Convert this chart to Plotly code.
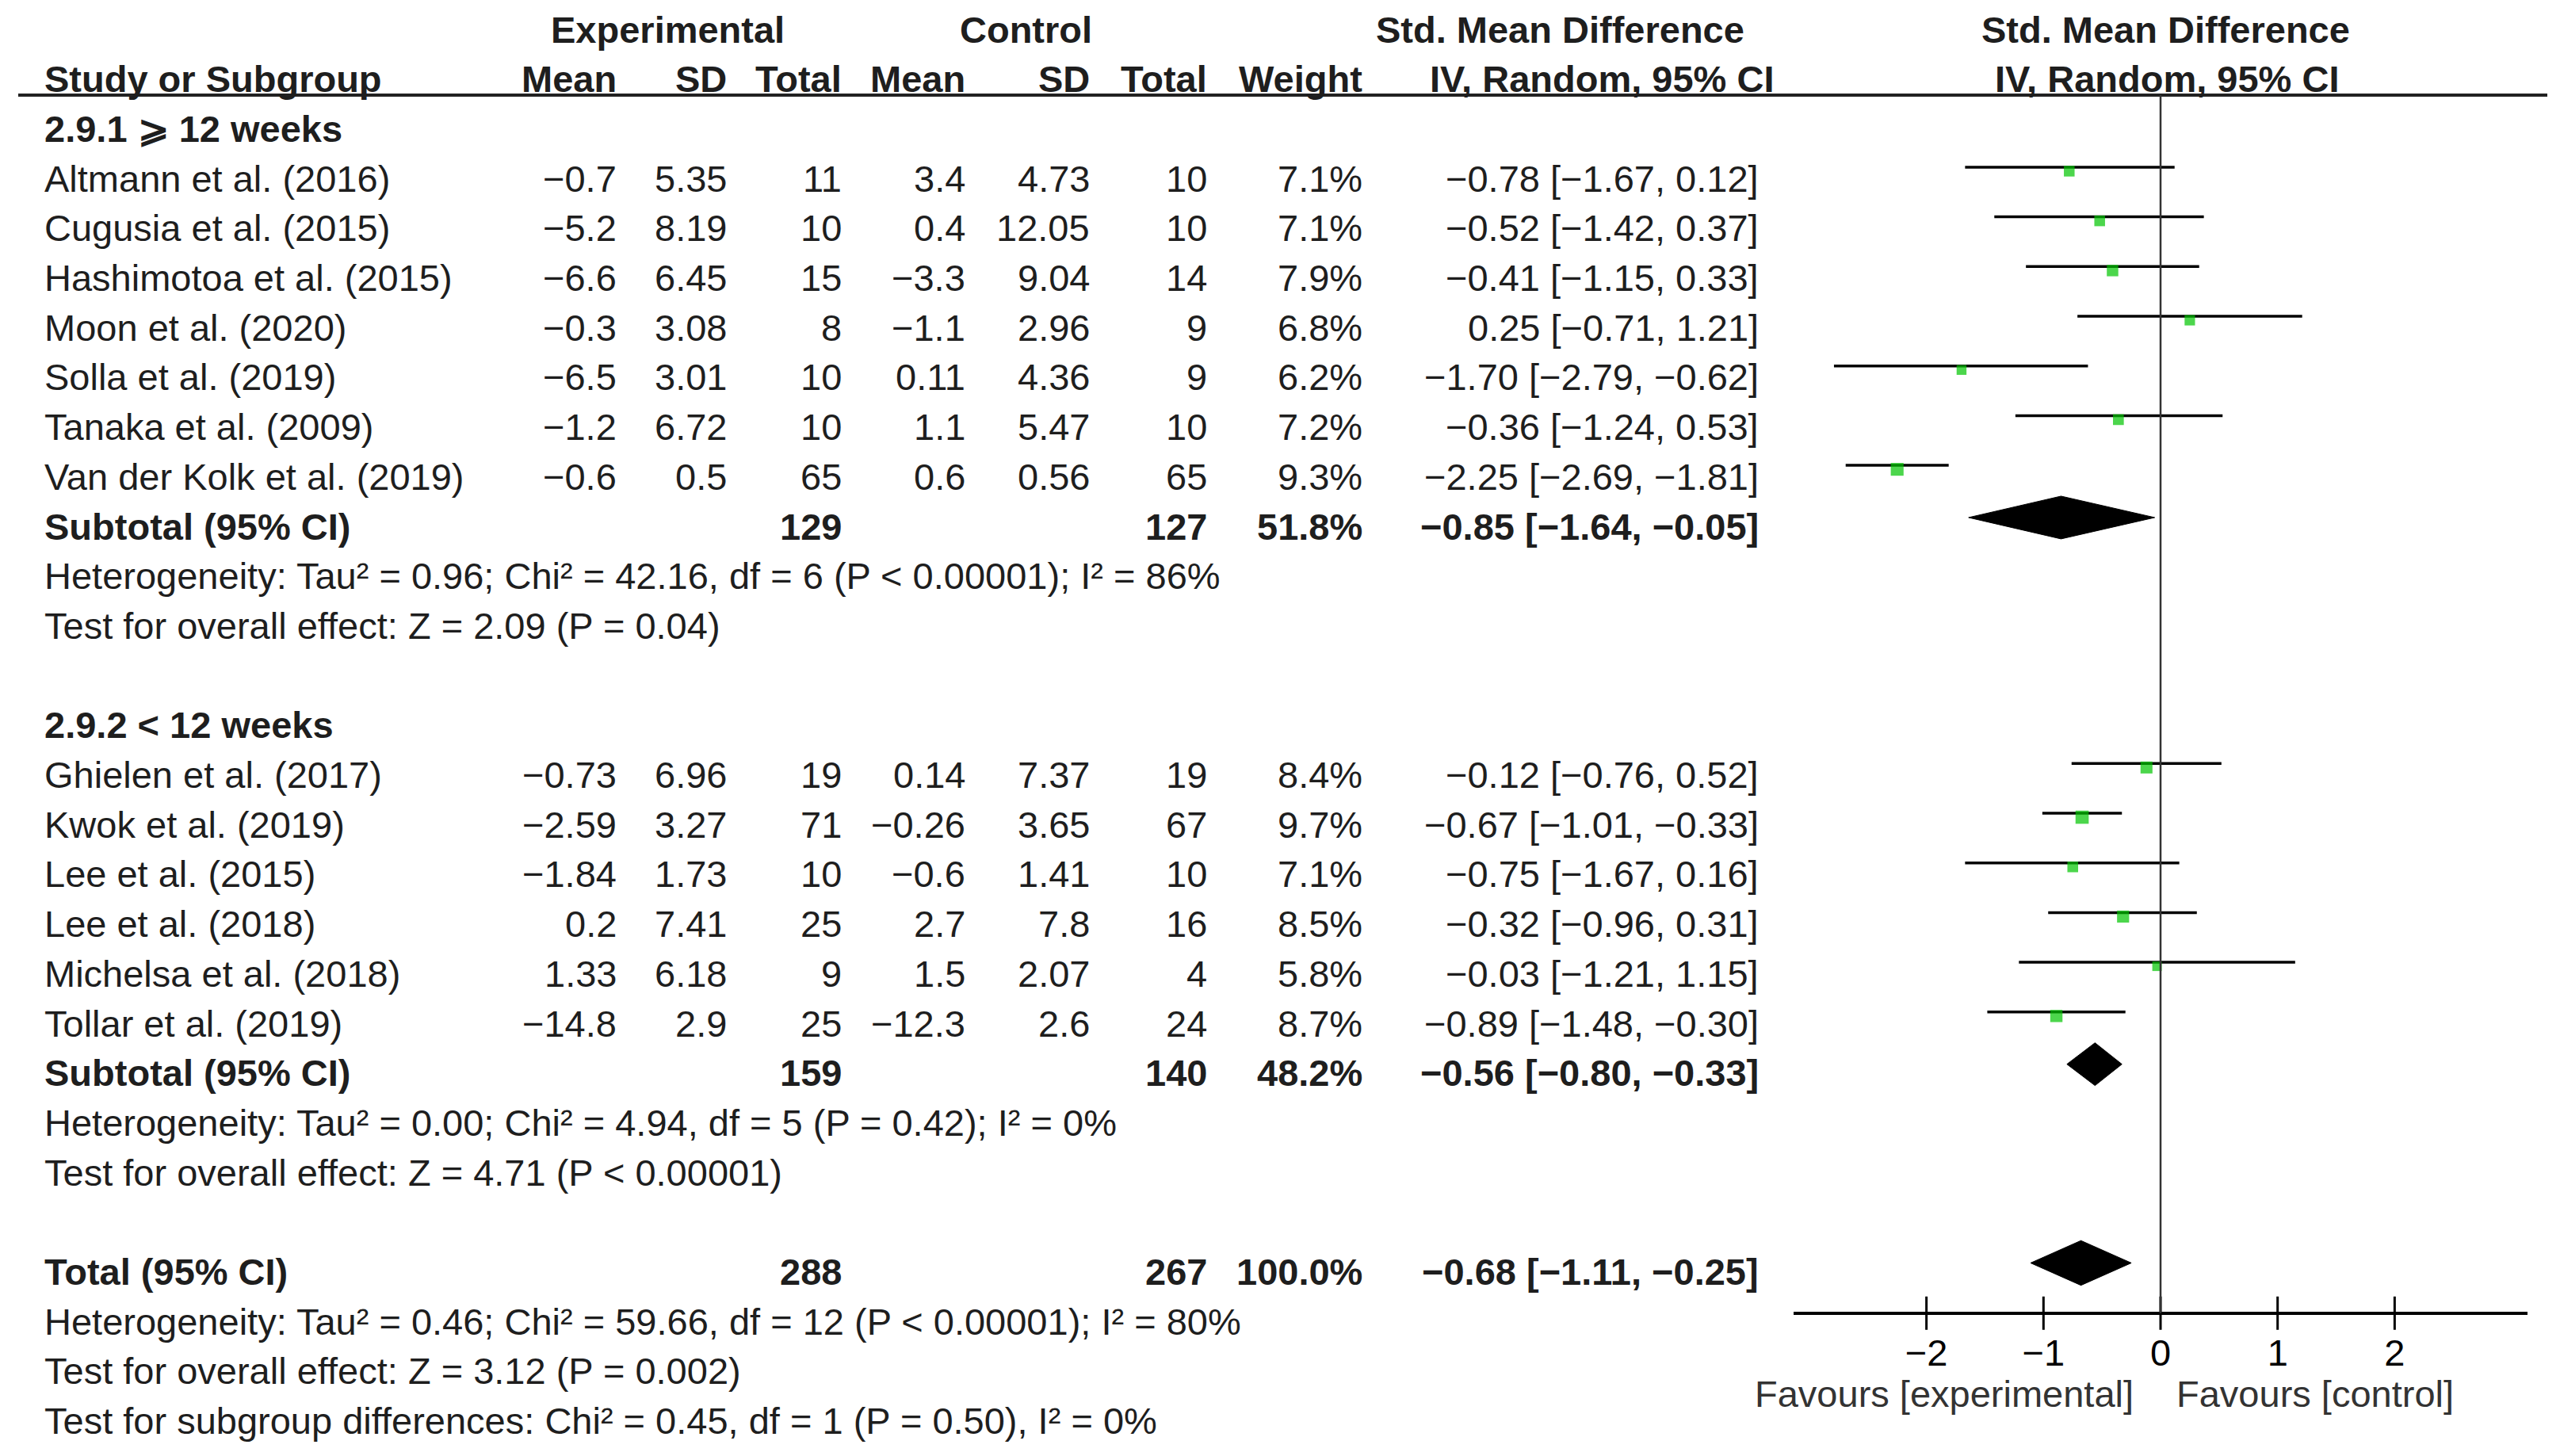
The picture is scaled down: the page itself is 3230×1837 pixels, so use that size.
import plotly.graph_objects as go

# ---- data ----
STUDIES = [
    "Altmann et al. (2016)", "Cugusia et al. (2015)", "Hashimotoa et al. (2015)",
    "Moon et al. (2020)", "Solla et al. (2019)", "Tanaka et al. (2009)",
    "Van der Kolk et al. (2019)",
    "Ghielen et al. (2017)", "Kwok et al. (2019)", "Lee et al. (2015)",
    "Lee et al. (2018)", "Michelsa et al. (2018)", "Tollar et al. (2019)",
]
SUBGROUP = [0, 0, 0, 0, 0, 0, 0, 1, 1, 1, 1, 1, 1]
EXP_MEAN = [-0.7, -5.2, -6.6, -0.3, -6.5, -1.2, -0.6, -0.73, -2.59, -1.84, 0.2, 1.33, -14.8]
EXP_SD = [5.35, 8.19, 6.45, 3.08, 3.01, 6.72, 0.5, 6.96, 3.27, 1.73, 7.41, 6.18, 2.9]
EXP_N = [11, 10, 15, 8, 10, 10, 65, 19, 71, 10, 25, 9, 25]
CTL_MEAN = [3.4, 0.4, -3.3, -1.1, 0.11, 1.1, 0.6, 0.14, -0.26, -0.6, 2.7, 1.5, -12.3]
CTL_SD = [4.73, 12.05, 9.04, 2.96, 4.36, 5.47, 0.56, 7.37, 3.65, 1.41, 7.8, 2.07, 2.6]
CTL_N = [10, 10, 14, 9, 9, 10, 65, 19, 67, 10, 16, 4, 24]
WEIGHT = [7.1, 7.1, 7.9, 6.8, 6.2, 7.2, 9.3, 8.4, 9.7, 7.1, 8.5, 5.8, 8.7]
SMD = [-0.78, -0.52, -0.41, 0.25, -1.70, -0.36, -2.25, -0.12, -0.67, -0.75, -0.32, -0.03, -0.89]
CI_LO = [-1.67, -1.42, -1.15, -0.71, -2.79, -1.24, -2.69, -0.76, -1.01, -1.67, -0.96, -1.21, -1.48]
CI_HI = [0.12, 0.37, 0.33, 1.21, -0.62, 0.53, -1.81, 0.52, -0.33, 0.16, 0.31, 1.15, -0.30]

GROUP_TITLES = ["2.9.1 ⩾ 12 weeks", "2.9.2 < 12 weeks"]
POOLED_LABEL = ["Subtotal (95% CI)", "Subtotal (95% CI)", "Total (95% CI)"]
POOLED_EXP_N = [129, 159, 288]
POOLED_CTL_N = [127, 140, 267]
POOLED_WEIGHT = [51.8, 48.2, 100.0]
POOLED_SMD = [-0.85, -0.56, -0.68]
POOLED_LO = [-1.64, -0.80, -1.11]
POOLED_HI = [-0.05, -0.33, -0.25]
POOLED_NOTES = [
    ["Heterogeneity: Tau² = 0.96; Chi² = 42.16, df = 6 (P < 0.00001); I² = 86%",
     "Test for overall effect: Z = 2.09 (P = 0.04)"],
    ["Heterogeneity: Tau² = 0.00; Chi² = 4.94, df = 5 (P = 0.42); I² = 0%",
     "Test for overall effect: Z = 4.71 (P < 0.00001)"],
    ["Heterogeneity: Tau² = 0.46; Chi² = 59.66, df = 12 (P < 0.00001); I² = 80%",
     "Test for overall effect: Z = 3.12 (P = 0.002)",
     "Test for subgroup differences: Chi² = 0.45, df = 1 (P = 0.50), I² = 0%"],
]
X_TICKS = [-2, -1, 0, 1, 2]
FAVOURS = ["Favours [experimental]", "Favours [control]"]

# ---- layout constants (pixels of the 3230 x 1837 page) ----
W, H = 3230, 1837
ROW_PX, TOP_PX = 62.7, 33
FONT = "Liberation Sans, Arial, sans-serif"
FS = 47
TXT = "#1e1e1e"
COL_RIGHT = {"exp_mean": 772, "exp_sd": 911, "exp_n": 1056, "ctl_mean": 1212,
             "ctl_sd": 1369, "ctl_n": 1517, "weight": 1713, "ci": 2213}
LEFT_PX = 46
AXIS_K = 25.77
HEAD_LINE_K = 1.26
FOREST_PX = (2255, 3181)   # left / right end of the effect axis


def num(v):
    return f"{v:g}".replace("-", "−")


def ci_text(m, lo, hi):
    return f"{m:.2f} [{lo:.2f}, {hi:.2f}]".replace("-", "−")


annotations = []


def text(s, px, k, anchor="left", bold=False, size=FS, color=TXT):
    annotations.append(dict(
        text=f"<b>{s}</b>" if bold else s, x=px / W, y=k, xref="paper", yref="y",
        xanchor=anchor, yanchor="middle", yshift=4, showarrow=False,
        font=dict(family=FONT, size=size, color=color),
    ))


# header
text("Experimental", 834, 0, "center", True)
text("Control", 1286, 0, "center", True)
text("Std. Mean Difference", 1960, 0, "center", True)
text("Std. Mean Difference", 2724, 0, "center", True)
text("Study or Subgroup", LEFT_PX, 1, "left", True)
for key, lab in [("exp_mean", "Mean"), ("exp_sd", "SD"), ("exp_n", "Total"),
                 ("ctl_mean", "Mean"), ("ctl_sd", "SD"), ("ctl_n", "Total"),
                 ("weight", "Weight")]:
    text(lab, COL_RIGHT[key], 1, "right", True)
text("IV, Random, 95% CI", 2232, 1, "right", True)
text("IV, Random, 95% CI", 2726, 1, "center", True)

study_k, pooled_k = [], []
line = 2
for g, title in enumerate(GROUP_TITLES):
    text(title, LEFT_PX, line, "left", True)
    line += 1
    for i, sg in enumerate(SUBGROUP):
        if sg != g:
            continue
        study_k.append(line)
        text(STUDIES[i], LEFT_PX, line)
        text(num(EXP_MEAN[i]), COL_RIGHT["exp_mean"], line, "right")
        text(num(EXP_SD[i]), COL_RIGHT["exp_sd"], line, "right")
        text(num(EXP_N[i]), COL_RIGHT["exp_n"], line, "right")
        text(num(CTL_MEAN[i]), COL_RIGHT["ctl_mean"], line, "right")
        text(num(CTL_SD[i]), COL_RIGHT["ctl_sd"], line, "right")
        text(num(CTL_N[i]), COL_RIGHT["ctl_n"], line, "right")
        text(f"{WEIGHT[i]:.1f}%", COL_RIGHT["weight"], line, "right")
        text(ci_text(SMD[i], CI_LO[i], CI_HI[i]), COL_RIGHT["ci"], line, "right")
        line += 1
    pooled_k.append(line)
    line += 1
    line += len(POOLED_NOTES[g]) + 1
pooled_k.append(line)

for p, k in enumerate(pooled_k):
    text(POOLED_LABEL[p], LEFT_PX, k, "left", True)
    text(str(POOLED_EXP_N[p]), COL_RIGHT["exp_n"], k, "right", True)
    text(str(POOLED_CTL_N[p]), COL_RIGHT["ctl_n"], k, "right", True)
    text(f"{POOLED_WEIGHT[p]:.1f}%", COL_RIGHT["weight"], k, "right", True)
    text(ci_text(POOLED_SMD[p], POOLED_LO[p], POOLED_HI[p]), COL_RIGHT["ci"], k, "right", True)
    for j, note in enumerate(POOLED_NOTES[p]):
        text(note, LEFT_PX, k + 1 + j)

text(FAVOURS[0], 2686, 27.45, "right", color="#333")
text(FAVOURS[1], 2736, 27.45, "left", color="#333")

fig = go.Figure()

# confidence intervals
xs, ys = [], []
for i, k in enumerate(study_k):
    xs += [CI_LO[i], CI_HI[i], None]
    ys += [k - 0.29, k - 0.29, None]
fig.add_trace(go.Scatter(x=xs, y=ys, mode="lines", line=dict(color="black", width=3.5),
                         hoverinfo="skip", showlegend=False))

# study weights as squares
fig.add_trace(go.Scatter(
    x=SMD, y=[k - 0.21 for k in study_k], mode="markers",
    marker=dict(symbol="square", color="#00c400", size=[5 + 1.2 * w for w in WEIGHT],
                line=dict(width=0)),
    showlegend=False, hoverinfo="skip"))

# pooled diamonds
for p, k in enumerate(pooled_k):
    c = k - 0.24
    h = 0.45 if p == 2 else 0.43
    fig.add_trace(go.Scatter(
        x=[POOLED_LO[p], POOLED_SMD[p], POOLED_HI[p], POOLED_SMD[p], POOLED_LO[p]],
        y=[c, c - h, c, c + h, c], mode="lines", fill="toself", fillcolor="black",
        line=dict(color="black", width=1), showlegend=False, hoverinfo="skip"))

# tick marks crossing the axis line
fig.add_trace(go.Scatter(
    x=X_TICKS, y=[AXIS_K] * len(X_TICKS), mode="markers",
    marker=dict(symbol="line-ns", size=30, line=dict(color="black", width=3)),
    showlegend=False, hoverinfo="skip", cliponaxis=False))

shapes = [
    dict(type="line", xref="paper", yref="y", x0=15 / W, x1=3206 / W,
         y0=HEAD_LINE_K, y1=HEAD_LINE_K, line=dict(color="#222", width=4)),
    dict(type="line", xref="x", yref="y", x0=0, x1=0, y0=HEAD_LINE_K, y1=AXIS_K,
         line=dict(color="#333", width=2.5)),
]

fig.update_layout(
    width=W, height=H,
    margin=dict(l=0, r=0, t=0, b=0),
    paper_bgcolor="white", plot_bgcolor="rgba(0,0,0,0)",
    annotations=annotations, shapes=shapes,
    xaxis=dict(domain=[FOREST_PX[0] / W, FOREST_PX[1] / W], range=[-3.135, 3.135],
               anchor="free", position=1 - (TOP_PX + ROW_PX * AXIS_K) / H,
               showline=True, linewidth=4, linecolor="black", showgrid=False,
               zeroline=False, ticks="", tickvals=X_TICKS, ticklabelstandoff=8,
               tickfont=dict(family=FONT, size=FS, color="black")),
    yaxis=dict(domain=[0, 1], range=[(H - TOP_PX) / ROW_PX, -TOP_PX / ROW_PX],
               visible=False),
)

fig.write_html("out.html")
